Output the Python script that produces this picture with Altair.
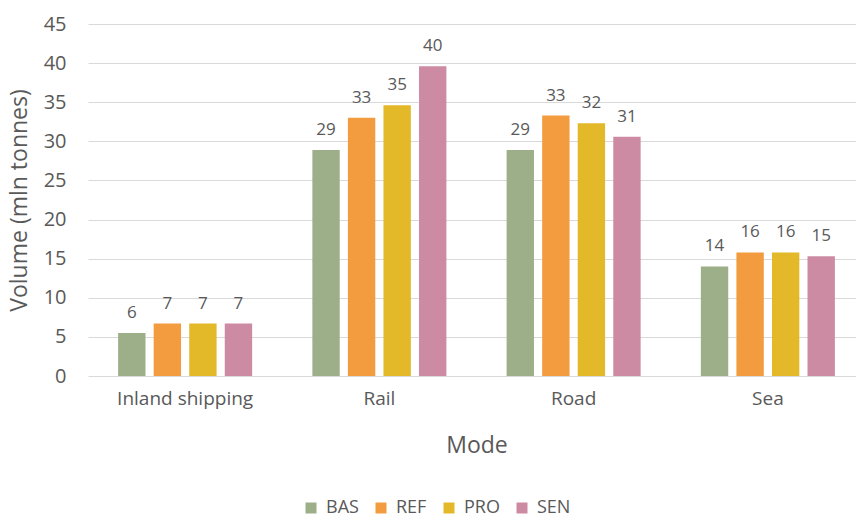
import altair as alt
import pandas as pd

modes = ["Inland shipping", "Rail", "Road", "Sea"]
scenarios = ["BAS", "REF", "PRO", "SEN"]
colors = ["#9caf88", "#f39c3f", "#e3b829", "#cd8aa3"]

# volume per scenario, in the order of `modes`
bas = [5.5, 28.9, 28.9, 14.0]
ref = [6.7, 33.0, 33.3, 15.8]
pro = [6.7, 34.6, 32.3, 15.8]
sen = [6.7, 39.6, 30.6, 15.3]

series = {"BAS": bas, "REF": ref, "PRO": pro, "SEN": sen}
rows = []
for s in scenarios:
    for m, v in zip(modes, series[s]):
        rows.append({"Mode": m, "Scenario": s, "Volume": v})
df = pd.DataFrame(rows)

FONT = "Open Sans"
GRAY = "#595959"

base = alt.Chart(df).encode(
    x=alt.X("Mode:N", sort=modes,
            scale=alt.Scale(paddingInner=0.31, paddingOuter=0.155, range=[0, 777]),
            axis=alt.Axis(title="Mode", labelAngle=0, labelFontSize=19,
                          labelColor=GRAY, titleFontSize=23, titleColor=GRAY,
                          titleFontWeight="normal", titlePadding=26,
                          domain=False, ticks=False, labelPadding=13,
                          labelFont=FONT, titleFont=FONT)),
    xOffset=alt.XOffset("Scenario:N", sort=scenarios,
                        scale=alt.Scale(paddingInner=0.23)),
    y=alt.Y("Volume:Q",
            scale=alt.Scale(domain=[0, 45], nice=False),
            axis=alt.Axis(title="Volume (mln tonnes)", values=list(range(0, 50, 5)),
                          labelOverlap=False,
                          labelFontSize=20, labelColor=GRAY, labelFont=FONT,
                          titleFont=FONT, titleFontSize=23, titleColor=GRAY,
                          titleFontWeight="normal", titlePadding=12,
                          domain=False, ticks=False, labelPadding=22,
                          gridColor="#d9d9d9", gridWidth=1)),
)

bars = base.mark_bar().encode(
    color=alt.Color("Scenario:N", sort=scenarios,
                    scale=alt.Scale(domain=scenarios, range=colors),
                    legend=alt.Legend(title=None, orient="none", direction="horizontal",
                                      legendX=214, legendY=475, symbolType="square",
                                      symbolSize=121, symbolStrokeWidth=0,
                                      labelFontSize=18, labelColor=GRAY, labelFont=FONT,
                                      columnPadding=13, symbolOffset=0,
                                      labelOffset=6)),
)

labels = base.mark_text(dy=-20, baseline="middle", fontSize=17, color=GRAY,
                        font=FONT).encode(
    text=alt.Text("Volume:Q", format=".0f"),
)

chart = (bars + labels).properties(
    width=768, height=352,
    background="white",
    autosize=alt.AutoSizeParams(type="none"),
    padding={"left": 88, "top": 24, "right": 0, "bottom": 142},
).configure_view(stroke=None)

chart.save("out.html", embed_options={"renderer": "svg", "actions": False})
